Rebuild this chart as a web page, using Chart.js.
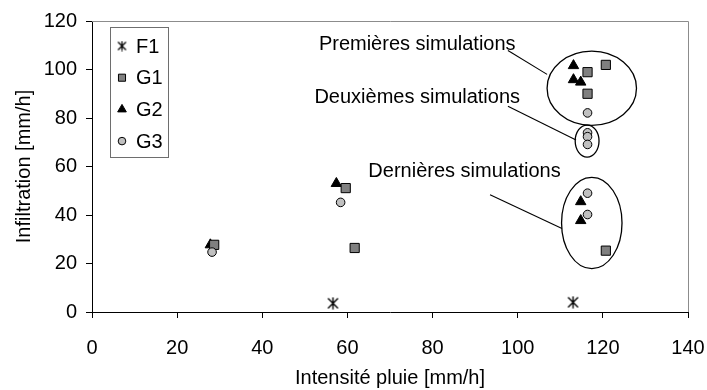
<!DOCTYPE html>
<html>
<head>
<meta charset="utf-8">
<script src="https://cdn.jsdelivr.net/npm/chart.js@4"></script>
<style>
  body { margin: 0; background: #fff; }
</style>
</head>
<body>
<canvas id="myChart" width="707" height="390"></canvas>
<script>
// rainfall intensity (x) vs infiltration (y) per soil sample
const f1X = [56.6, 113.0];
const f1Y = [3.6, 4.0];

const g1X = [28.7, 59.6, 61.7, 116.4, 120.7, 116.4, 120.7];
const g1Y = [27.7, 51.1, 26.4, 98.9, 101.9, 90.0, 25.3];

const g2X = [27.8, 57.4, 113.1, 113.1, 114.8, 114.8, 114.8];
const g2Y = [27.7, 53.0, 101.6, 95.8, 94.8, 45.5, 37.7];

const g3X = [28.2, 58.4, 116.4, 116.4, 116.4, 116.4, 116.4, 116.4];
const g3Y = [24.7, 45.2, 82.1, 73.9, 72.3, 69.1, 49.0, 40.2];

const xTicks = [0, 20, 40, 60, 80, 100, 120, 140];
const yTicks = [0, 20, 40, 60, 80, 100, 120];

// simulation groups: ellipse centre / radii in axis units, label spot, leader line
const groupNames = ['Premières simulations', 'Deuxièmes simulations', 'Dernières simulations'];
const groupEllipses = [[117.4, 92.3, 10.5, 15.3], [116.3, 70.5, 2.8, 6.6], [117.4, 36.7, 7.1, 18.8]];
const groupLabels = [[76.4, 110.4], [76.4, 88.5], [87.5, 57.8]];
const groupLeaders = [[97.7, 107.8, 106.9, 98.0], [97.7, 84.8, 113.7, 70.9], [93.5, 48.4, 110.4, 34.4]];

const toPoints = (xs, ys) => xs.map((x, i) => ({ x: x, y: ys[i] }));

// asterisk marker used for F1
function starMarker(size, lw) {
  const c = document.createElement('canvas');
  c.width = size; c.height = size;
  const g = c.getContext('2d');
  const m = size / 2, h = size / 2 - 1.5;
  g.strokeStyle = '#000';
  g.lineWidth = lw;
  g.beginPath();
  g.moveTo(m - h, m - h); g.lineTo(m + h, m + h);
  g.moveTo(m + h, m - h); g.lineTo(m - h, m + h);
  g.moveTo(m, m - h - 1); g.lineTo(m, m + h + 1);
  g.stroke();
  return c;
}
const star = starMarker(13, 1.4);
const starSmall = starMarker(11, 1.2);

const FONT = 'Liberation Sans, Arial, sans-serif';
Chart.defaults.font.family = FONT;
Chart.defaults.font.size = 20;
Chart.defaults.color = '#000';

const decor = {
  id: 'decor',
  beforeDatasetsDraw(chart) {
    const { ctx, chartArea: a } = chart;
    ctx.save();
    ctx.strokeStyle = '#8c8c8c';
    ctx.lineWidth = 1;
    ctx.beginPath();
    ctx.moveTo(a.left, a.top + 0.5);
    ctx.lineTo(a.right + 0.5, a.top + 0.5);
    ctx.lineTo(a.right + 0.5, a.bottom);
    ctx.stroke();
    ctx.restore();
  },
  afterDatasetsDraw(chart) {
    const { ctx, chartArea: a, scales: { x, y } } = chart;
    ctx.save();
    ctx.strokeStyle = '#000';
    ctx.lineWidth = 1.3;

    groupEllipses.forEach(e => {
      const cx = x.getPixelForValue(e[0]), cy = y.getPixelForValue(e[1]);
      const rx = x.getPixelForValue(e[0] + e[2]) - cx;
      const ry = cy - y.getPixelForValue(e[1] + e[3]);
      ctx.beginPath();
      ctx.ellipse(cx, cy, rx, ry, 0, 0, Math.PI * 2);
      ctx.stroke();
    });

    ctx.lineWidth = 1.1;
    groupLeaders.forEach(l => {
      ctx.beginPath();
      ctx.moveTo(x.getPixelForValue(l[0]), y.getPixelForValue(l[1]));
      ctx.lineTo(x.getPixelForValue(l[2]), y.getPixelForValue(l[3]));
      ctx.stroke();
    });

    ctx.fillStyle = '#000';
    ctx.font = '20px ' + FONT;
    ctx.textAlign = 'center';
    ctx.textBaseline = 'middle';
    groupNames.forEach((t, i) => {
      ctx.fillText(t, x.getPixelForValue(groupLabels[i][0]), y.getPixelForValue(groupLabels[i][1]));
    });

    // legend box inside the plot area
    const lx = a.left + 18, ly = a.top + 6, lw = 58, lh = 130;
    ctx.fillStyle = '#fff';
    ctx.fillRect(lx, ly, lw, lh);
    ctx.strokeStyle = '#6e6e6e';
    ctx.lineWidth = 1;
    ctx.strokeRect(lx + 0.5, ly + 0.5, lw, lh);
    chart.data.datasets.forEach((ds, i) => {
      const my = ly + 19 + i * 31.7;
      const mx = lx + 12;
      ctx.fillStyle = ds.pointBackgroundColor;
      ctx.strokeStyle = ds.pointBorderColor;
      ctx.lineWidth = 1;
      const style = ds.pointStyle === star ? starSmall : ds.pointStyle;
      Chart.helpers.drawPoint(ctx, {
        pointStyle: style, radius: ds.legendRadius, rotation: 0, borderWidth: 1
      }, mx, my);
      ctx.fillStyle = '#000';
      ctx.textAlign = 'left';
      ctx.fillText(ds.label, lx + 26, my + 1);
    });
    ctx.restore();
  }
};

new Chart(document.getElementById('myChart'), {
  type: 'scatter',
  data: {
    datasets: [
      {
        label: 'F1', data: toPoints(f1X, f1Y), pointStyle: star,
        pointBackgroundColor: '#000', pointBorderColor: '#000', legendRadius: 5, order: 4
      },
      {
        label: 'G1', data: toPoints(g1X, g1Y), pointStyle: 'rect', pointRadius: 6.5,
        pointBackgroundColor: '#808080', pointBorderColor: '#000', pointBorderWidth: 1,
        legendRadius: 5, order: 2
      },
      {
        label: 'G2', data: toPoints(g2X, g2Y), pointStyle: 'triangle', pointRadius: 6,
        pointBackgroundColor: '#000', pointBorderColor: '#000', pointBorderWidth: 1,
        legendRadius: 5, order: 3
      },
      {
        label: 'G3', data: toPoints(g3X, g3Y), pointStyle: 'circle', pointRadius: 4.3,
        pointBackgroundColor: '#c0c0c0', pointBorderColor: '#000', pointBorderWidth: 1,
        legendRadius: 3.8, order: 1
      }
    ]
  },
  options: {
    responsive: false,
    animation: false,
    layout: { padding: { top: 18, right: 19, left: 0, bottom: 0 } },
    plugins: { legend: { display: false }, tooltip: { enabled: false } },
    scales: {
      x: {
        type: 'linear', min: 0, max: 140,
        afterBuildTicks: s => { s.ticks = xTicks.map(v => ({ value: v })); },
        afterFit: s => { s.height = 78; s.paddingLeft = 0; s.paddingRight = 0; },
        border: { display: true, color: '#000', width: 1 },
        grid: { drawOnChartArea: false, drawTicks: true, tickLength: 6, color: '#000' },
        ticks: { padding: 18, maxRotation: 0, color: '#000' },
        title: { display: true, text: 'Intensité pluie [mm/h]', padding: { top: 0, bottom: 0 }, color: '#000' }
      },
      y: {
        type: 'linear', min: 0, max: 120,
        afterBuildTicks: s => { s.ticks = yTicks.map(v => ({ value: v })); },
        afterFit: s => { s.width = 92; },
        border: { display: true, color: '#000', width: 1 },
        grid: { drawOnChartArea: false, drawTicks: true, tickLength: 6, color: '#000' },
        ticks: { padding: 9, color: '#000' },
        title: { display: true, text: 'Infiltration [mm/h]', padding: { top: 12, bottom: 0 }, color: '#000' }
      }
    }
  },
  plugins: [decor]
});
</script>
</body>
</html>
